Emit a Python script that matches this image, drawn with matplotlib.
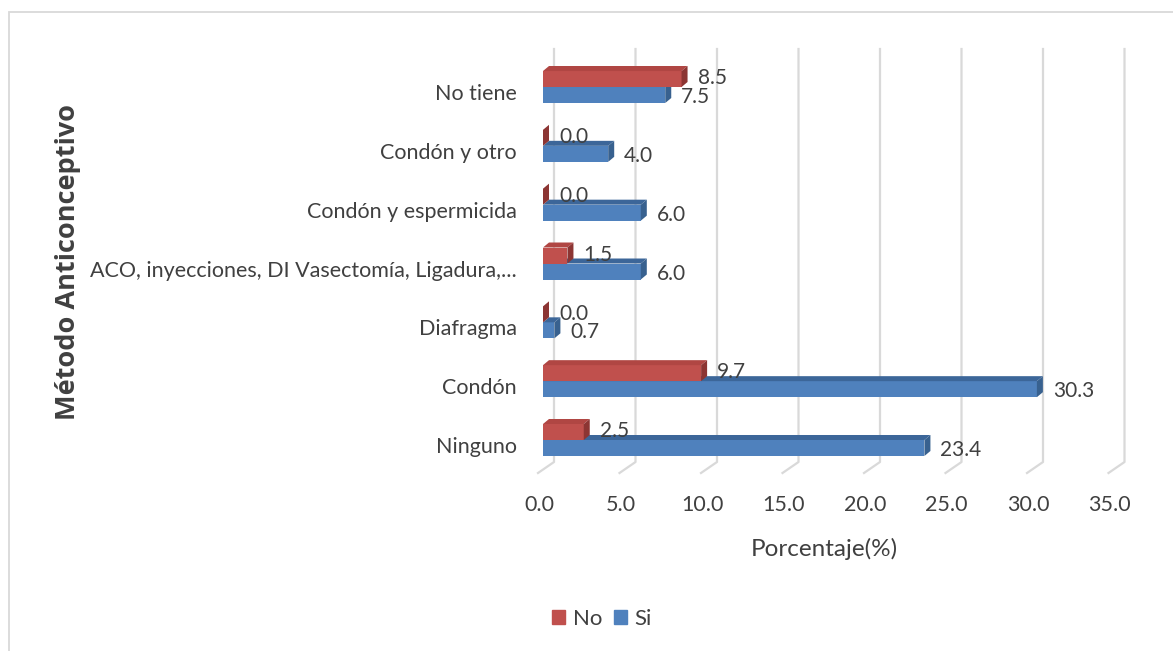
import matplotlib
matplotlib.use("Agg")
import matplotlib.pyplot as plt
from matplotlib.patches import Polygon, Rectangle
from matplotlib.lines import Line2D
from matplotlib.transforms import ScaledTranslation

plt.rcParams['font.family'] = ['Lato', 'DejaVu Sans']

categorias = ["Ninguno", "Condón", "Diafragma",
              "ACO, inyecciones, DI Vasectomía, Ligadura,...",
              "Condón y espermicida", "Condón y otro", "No tiene"]
no_vals = [2.5, 9.7, 0.0, 1.5, 0.0, 0.0, 8.5]
si_vals = [23.4, 30.3, 0.7, 6.0, 6.0, 4.0, 7.5]
xticks = [0, 5, 10, 15, 20, 25, 30, 35]

W, H, DPI = 1173, 651, 100
fig = plt.figure(figsize=(W / DPI, H / DPI), dpi=DPI)
txt_c = '#404040'

# plot area in pixels
x0, x1 = 543, 1113.5
ytop, ybot = 49, 473
ax = fig.add_axes([x0 / W, 1 - ybot / H, (x1 - x0) / W, (ybot - ytop) / H])
ylo, yhi = -0.561, 6.646
ax.set_xlim(0, 35)
ax.set_ylim(ylo, yhi)
ax.set_facecolor('none')
for s in ax.spines.values():
    s.set_visible(False)

sx = (x1 - x0) / 35.0           # px per unit on x
sy = (ybot - ytop) / (yhi - ylo)  # px per unit on y

# back wall gridlines with the floor diagonal
grid_c = '#d9d9d9'
y_floor = ylo + (ybot - 462) / sy
for t in xticks:
    xb = t + 11 / sx
    xf = t - 5 / sx
    ax.add_line(Line2D([xb, xb, xf], [yhi, y_floor, ylo], color=grid_c,
                       lw=1.6, zorder=0, clip_on=False))

# 3D bars
h = 16 / sy
dx, dy = 6 / sx, 5 / sy
series = [
    (si_vals, -h, '#4F81BD', '#3C6699', '#38618F', -1.5),
    (no_vals, 0.0, '#C0504D', '#B04643', '#8C3533', 0.5),
]
ypos = list(range(len(categorias)))
for vals, off, front, top, side, lab_dy in series:
    ybs = [y + off for y in ypos]
    ax.barh(ybs, vals, height=h, align='edge', color=front, lw=0, zorder=2)
    for v, yb in zip(vals, ybs):
        ax.add_patch(Polygon([(0, yb + h), (v, yb + h), (v + dx, yb + h + dy),
                              (dx, yb + h + dy)], closed=True, color=top,
                             lw=0, zorder=2))
        ax.add_patch(Polygon([(v, yb), (v + dx, yb + dy), (v + dx, yb + h + dy),
                              (v, yb + h)], closed=True, color=side, lw=0,
                             zorder=2))
        ax.annotate(f"{v:.1f}", xy=(v, yb + h / 2), xytext=(11.5, lab_dy),
                    textcoords='offset points', ha='left', va='center',
                    fontsize=15, color=txt_c, zorder=3)

# axis labels and ticks
ax.set_yticks(ypos, categorias)
ax.set_xticks(xticks, [f"{t:.1f}" for t in xticks])
ax.tick_params(axis='both', length=0, labelsize=15.5, colors=txt_c)
ax.tick_params(axis='y', pad=19)
ax.tick_params(axis='x', pad=16)
for lab in ax.get_yticklabels():
    lab.set_transform(lab.get_transform() + ScaledTranslation(0, -0.05, fig.dpi_scale_trans))
for lab in ax.get_xticklabels():
    lab.set_transform(lab.get_transform() + ScaledTranslation(-0.04, 0, fig.dpi_scale_trans))

ax.set_xlabel("Porcentaje(%)", fontsize=17.5, color=txt_c)
ax.xaxis.set_label_coords((824 - x0) / (x1 - x0), (ybot - 549) / (ybot - ytop))
ax.xaxis.label.set_va('center')

fig.text(68 / W, 1 - 262 / H, "Método Anticonceptivo", rotation=90,
         ha='center', va='center', fontsize=19.5, fontweight='bold',
         color=txt_c, family=['Open Sans', 'DejaVu Sans'])

# legend
handles = [Rectangle((0, 0), 1, 1, color='#C0504D'),
           Rectangle((0, 0), 1, 1, color='#4F81BD')]
fig.legend(handles, ["No", "Si"], loc='center', bbox_to_anchor=(602 / W, 1 - 619 / H),
           ncol=2, frameon=False, fontsize=16, handlelength=0.6, handleheight=0.6,
           handletextpad=0.35, columnspacing=0.5, labelcolor=txt_c)

# chart frame
fig.patches.append(Rectangle((9 / W, -0.1), 1.2, 1 - 12 / H + 0.1, fill=False,
                             edgecolor='#d9d9d9', lw=1.3,
                             transform=fig.transFigure, figure=fig))

fig.savefig("out.png", dpi=DPI)
